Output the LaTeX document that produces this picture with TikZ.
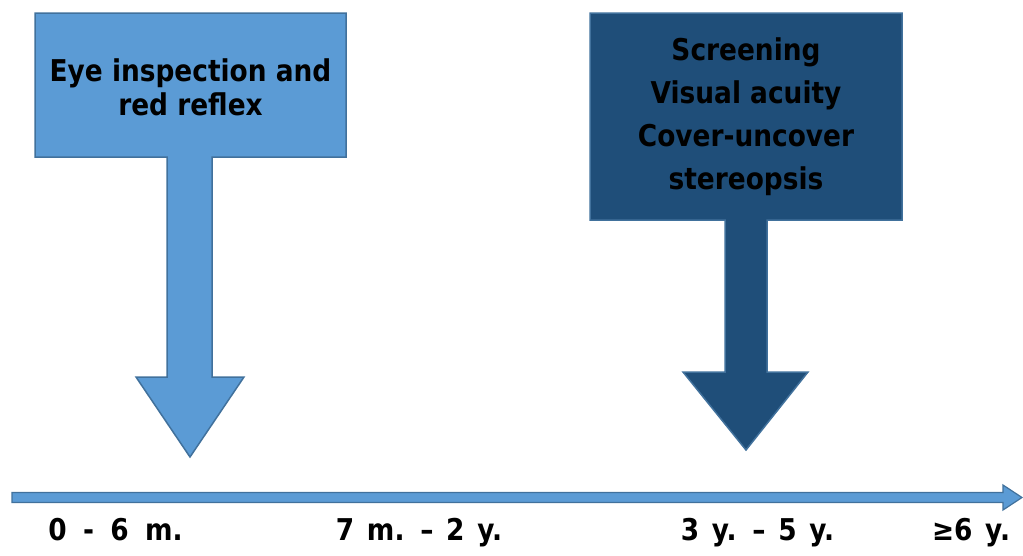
\documentclass[tikz,border=0pt]{standalone}
\usepackage{fontspec}
\setmainfont{DejaVu Sans}[FakeStretch=0.88]
\usetikzlibrary{positioning}
\definecolor{lightblue}{HTML}{5B9BD5}
\definecolor{darkblue}{HTML}{1F4E79}
\definecolor{edgeblue}{HTML}{41719C}
\tikzset{
  callout/.style={draw=edgeblue, line width=1.5pt, line join=miter},
  boxtext/.style={align=center, font=\bfseries\fontsize{30}{34}\selectfont},
  agelabel/.style={anchor=base, font=\bfseries\fontsize{30}{34}\selectfont,
    execute at begin node={\spaceskip=#1\relax}},
  agelabel/.default=12.7pt,
}

\begin{document}
\begin{tikzpicture}[x=1pt, y=-1pt]
        \useasboundingbox (0,0) rectangle (1023,555);
        % Define the callouts
        \path[callout, fill=lightblue] (35,13) -- (346,13) -- (346,157) -- (212,157) -- (212,377) -- (244,377)
            -- (190,457) -- (136,377) -- (167,377) -- (167,157) -- (35,157) -- cycle;
        \path[callout, fill=darkblue] (590,13) -- (902,13) -- (902,220) -- (767,220) -- (767,372) -- (808,372)
            -- (746,450) -- (683,372) -- (725,372) -- (725,220) -- (590,220) -- cycle;
        \node[boxtext] (inspect) at (190.5,87.5) {Eye inspection and\\red reflex};
        \node[boxtext, font=\bfseries\fontsize{30}{43}\selectfont] (screen) at (746,117)
            {Screening\\Visual acuity\\Cover-uncover\\stereopsis};
        % Define the time line
        \coordinate (tstart) at (12,497.5);
        \coordinate (tend) at (1022,497.5);
        \path[callout, fill=lightblue, line width=1.2pt] (12,492.5) -- (1003,492.5) -- (1003,485) -- (tend)
            -- (1003,510) -- (1003,502.5) -- (12,502.5) -- cycle;
        % Define the ages
        \node[agelabel=16.4pt] (age1) at (115.5,540) {0 - 6 m.};
        \node[agelabel] (age2) at (419,540) {7 m. – 2 y.};
        \node[agelabel] (age3) at (757.5,540) {3 y. – 5 y.};
        \node[agelabel] (age4) at (971,540) {≥6 y.};
    \end{tikzpicture}
\end{document}
